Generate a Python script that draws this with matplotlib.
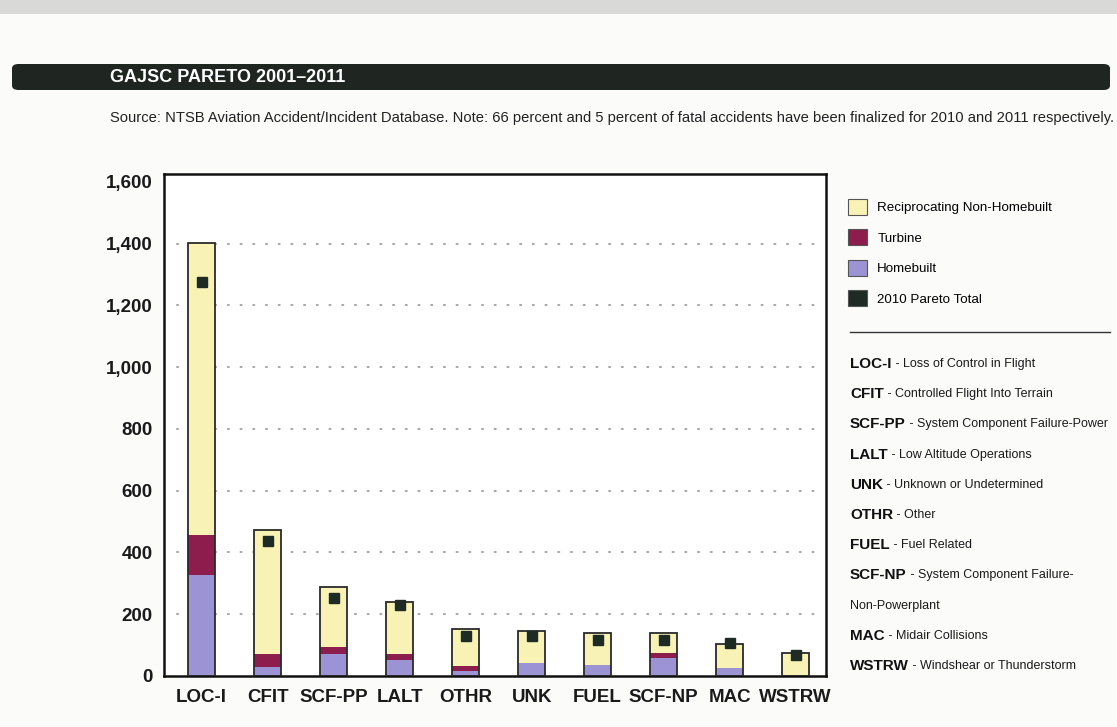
import matplotlib
matplotlib.use("Agg")
import matplotlib.pyplot as plt
from matplotlib.patches import Patch, FancyBboxPatch, Rectangle
from matplotlib.lines import Line2D
from matplotlib.ticker import FuncFormatter

plt.rcParams['font.family'] = ['Liberation Sans', 'DejaVu Sans']

categories = ["LOC-I", "CFIT", "SCF-PP", "LALT", "OTHR", "UNK", "FUEL", "SCF-NP", "MAC", "WSTRW"]
homebuilt = [326, 30, 71, 52, 17, 43, 35, 57, 27, 0]
turbine = [131, 40, 24, 19, 16, 0, 0, 16, 0, 0]
totals = [1401, 471, 288, 240, 151, 145, 138, 138, 103, 75]
pareto_2010 = [1274, 436, 253, 229, 129, 129, 116, 118, 107, 69]
y_ticks = [0, 200, 400, 600, 800, 1000, 1200, 1400, 1600]

definitions = [
    ("LOC-I", "Loss of Control in Flight"),
    ("CFIT", "Controlled Flight Into Terrain"),
    ("SCF-PP", "System Component Failure-Power"),
    ("LALT", "Low Altitude Operations"),
    ("UNK", "Unknown or Undetermined"),
    ("OTHR", "Other"),
    ("FUEL", "Fuel Related"),
    ("SCF-NP", "System Component Failure-"),
    (None, "Non-Powerplant"),
    ("MAC", "Midair Collisions"),
    ("WSTRW", "Windshear or Thunderstorm"),
]

recip = [t - h - tb for t, h, tb in zip(totals, homebuilt, turbine)]

C_YEL = "#f8f3b4"
C_TUR = "#8c1d4c"
C_HOM = "#9b93d3"
C_MRK = "#1d2b24"
EDGE = "#2a2a2a"

W, H = 1117, 727
fig = plt.figure(figsize=(W / 100, H / 100), dpi=100, facecolor="#fbfbfa")
# faint scanned strip at the very top
fig.patches.append(Rectangle((0, 1 - 14 / H), 1, 14 / H, transform=fig.transFigure,
                             facecolor="#d9d9d7", edgecolor="none"))

ax = fig.add_axes([164 / W, 1 - 676 / H, (826 - 164) / W, (676 - 174) / H])
ax.set_facecolor("white")

x = list(range(len(categories)))
bw = 0.41
for yv in y_ticks[1:-1]:
    ax.axhline(yv, xmin=0.02, xmax=0.99, color="#a8a8a8", lw=1.5,
               linestyle=(0, (0.5, 5.6)), dash_capstyle="round", zorder=0)

ax.bar(x, homebuilt, width=bw, color=C_HOM, zorder=2)
ax.bar(x, turbine, width=bw, bottom=homebuilt, color=C_TUR, zorder=2)
bott = [h + t for h, t in zip(homebuilt, turbine)]
ax.bar(x, recip, width=bw, bottom=bott, color=C_YEL, zorder=2)
ax.bar(x, totals, width=bw, fill=False, edgecolor=EDGE, lw=1.3, zorder=3)
ax.plot(x, pareto_2010, linestyle="none", marker="s", ms=7.5, color=C_MRK, zorder=4)

ax.set_xlim(-0.571, 9.46)
ax.set_ylim(0, 1625)
ax.set_yticks(y_ticks)
ax.yaxis.set_major_formatter(FuncFormatter(lambda v, p: f"{int(v):,}"))
ax.set_xticks(x)
ax.set_xticklabels(categories)
ax.tick_params(length=0, labelsize=13.5, colors="#1a1a1a")
ax.tick_params(axis="y", pad=8)
ax.tick_params(axis="x", pad=9)
for lab in ax.get_xticklabels() + ax.get_yticklabels():
    lab.set_fontweight("bold")
for s in ax.spines.values():
    s.set_color("#111111")
    s.set_linewidth(1.8)

# Title band
band = FancyBboxPatch((12 / W, 1 - 90 / H), (1110 - 12) / W, 26 / H,
                      boxstyle="round,pad=0,rounding_size=0.006",
                      transform=fig.transFigure, facecolor="#1f2621", edgecolor="none")
fig.patches.append(band)
fig.text(110 / W, 1 - 77 / H, "GAJSC PARETO 2001–2011", color="white",
         fontsize=13, fontweight="bold", va="center", ha="left")
fig.text(110 / W, 1 - 118 / H,
         "Source: NTSB Aviation Accident/Incident Database. Note: 66 percent and 5 percent of fatal "
         "accidents have been finalized for 2010 and 2011 respectively.",
         color="#222222", fontsize=10.65, va="center", ha="left")

# Legend
handles = [Patch(facecolor=C_YEL, edgecolor="#555555", lw=0.8),
           Patch(facecolor=C_TUR, edgecolor="#555555", lw=0.8),
           Patch(facecolor=C_HOM, edgecolor="#555555", lw=0.8),
           Patch(facecolor=C_MRK, edgecolor="#555555", lw=0.8)]
labels = ["Reciprocating Non-Homebuilt", "Turbine", "Homebuilt", "2010 Pareto Total"]
fig.legend(handles, labels, loc="upper left", bbox_to_anchor=(848 / W, 1 - 199 / H),
           frameon=False, fontsize=9.6, handlelength=1.45, handleheight=1.45,
           handletextpad=0.75, labelspacing=1.1, borderaxespad=0, borderpad=0)

# Separator line
fig.add_artist(Line2D([850 / W, 1110 / W], [1 - 332 / H, 1 - 332 / H],
                      transform=fig.transFigure, color="#333333", lw=1.0))

# Definitions
y0 = 364
for i, (code, desc) in enumerate(definitions):
    yy = 1 - (y0 + i * 30.2) / H
    if code is None:
        fig.text(850 / W, yy, desc, fontsize=9.0, va="center", ha="left", color="#1a1a1a")
        continue
    t = fig.text(850 / W, yy, code, fontsize=11, fontweight="bold", va="center",
                 ha="left", color="#111111")
    plt.annotate(" - " + desc, xy=(1, 0.5), xycoords=t, va="center", ha="left",
                 fontsize=9.0, color="#1a1a1a", annotation_clip=False)

fig.savefig("out.png", dpi=100, facecolor=fig.get_facecolor())
